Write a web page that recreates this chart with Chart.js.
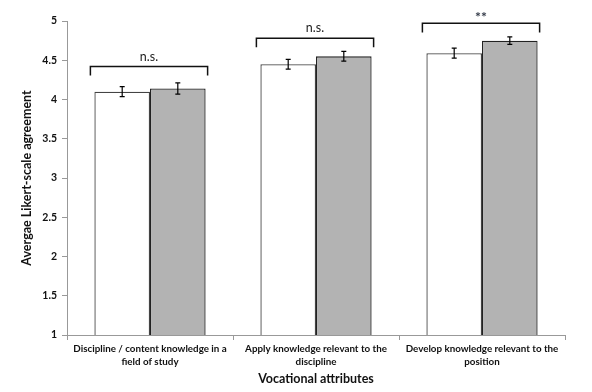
<!DOCTYPE html>
<html>
<head>
<meta charset="utf-8">
<script src="https://cdn.jsdelivr.net/npm/chart.js@4"></script>
<style>
  html, body { margin: 0; padding: 0; background: #fff; }
  #wrap { width: 592px; height: 392px; }
</style>
</head>
<body>
<div id="wrap"><canvas id="bar-chart"></canvas></div>
<script>
var categories = [
    ["Discipline / content knowledge in a", "field of study"],
    ["Apply knowledge relevant to the", "discipline"],
    ["Develop knowledge relevant to the", "position"]
];
var whiteValues = [4.10, 4.45, 4.59];
var whiteErrors = [0.064, 0.062, 0.064];
var grayValues = [4.14, 4.55, 4.75];
var grayErrors = [0.072, 0.062, 0.047];
var bracketLevels = [4.42, 4.78, 4.97];
var bracketLabels = ["n.s.", "n.s.", "**"];
var yTicks = [1, 1.5, 2, 2.5, 3, 3.5, 4, 4.5, 5];

var errorBars = {
    id: 'errorBars',
    afterDatasetsDraw: function(chart) {
        var ctx = chart.ctx;
        var y = chart.scales.y;
        var errs = [whiteErrors, grayErrors];
        ctx.save();
        ctx.strokeStyle = '#000';
        ctx.lineWidth = 1.2;
        chart.data.datasets.forEach(function(ds, d) {
            var meta = chart.getDatasetMeta(d);
            meta.data.forEach(function(bar, i) {
                var v = ds.data[i];
                var top = y.getPixelForValue(v + errs[d][i]);
                var bot = y.getPixelForValue(v - errs[d][i]);
                ctx.beginPath();
                ctx.moveTo(bar.x, top); ctx.lineTo(bar.x, bot);
                ctx.moveTo(bar.x - 2.5, top); ctx.lineTo(bar.x + 2.5, top);
                ctx.moveTo(bar.x - 2.5, bot); ctx.lineTo(bar.x + 2.5, bot);
                ctx.stroke();
            });
        });
        ctx.restore();
    }
};

var brackets = {
    id: 'brackets',
    afterDraw: function(chart) {
        var ctx = chart.ctx;
        var y = chart.scales.y;
        var m0 = chart.getDatasetMeta(0), m1 = chart.getDatasetMeta(1);
        ctx.save();
        ctx.strokeStyle = '#111';
        ctx.lineWidth = 1.5;
        for (var i = 0; i < bracketLevels.length; i++) {
            var b0 = m0.data[i], b1 = m1.data[i];
            var left = b0.x - b0.width / 2 - 4;
            var right = b1.x + b1.width / 2 + 2;
            var yy = y.getPixelForValue(bracketLevels[i]);
            var leg = y.getPixelForValue(bracketLevels[i] - 0.115);
            ctx.beginPath();
            ctx.moveTo(left, leg); ctx.lineTo(left, yy);
            ctx.lineTo(right, yy); ctx.lineTo(right, leg);
            ctx.stroke();
            var star = bracketLabels[i] === '**';
            ctx.fillStyle = star ? '#333a48' : '#222';
            ctx.font = star ? 'bold 14px Lato' : '12.5px Lato';
            ctx.textAlign = 'center';
            ctx.textBaseline = 'middle';
            ctx.fillText(bracketLabels[i], (left + right) / 2, yy - (star ? 6 : 10));
        }
        ctx.restore();
    }
};

new Chart(document.getElementById("bar-chart"), {
    type: 'bar',
    data: {
        labels: categories,
        datasets: [{
            data: whiteValues,
            backgroundColor: '#ffffff',
            borderColor: '#444',
            borderWidth: 1.3
        }, {
            data: grayValues,
            backgroundColor: '#b3b3b3',
            borderColor: '#222',
            borderWidth: 1.3
        }]
    },
    options: {
        responsive: true,
        maintainAspectRatio: false,
        animation: false,
        layout: { padding: { top: 21, right: 27, left: 0, bottom: 0 } },
        plugins: { legend: { display: false }, tooltip: { enabled: false } },
        datasets: { bar: { categoryPercentage: 0.67, barPercentage: 1.0 } },
        scales: {
            x: {
                grid: { drawOnChartArea: false, drawTicks: true, tickLength: 5, color: '#999', offset: true },
                border: { color: '#999', width: 1 },
                ticks: { color: '#111', font: { family: 'Lato', size: 9.8, weight: 'bold', lineHeight: 1.35 },
                         padding: 2, maxRotation: 0, autoSkip: false },
                title: { display: true, text: 'Vocational attributes', color: '#111',
                         font: { family: 'Lato', size: 12.5, weight: 'bold' }, padding: { top: 4, bottom: 6 } },
                afterFit: function(s) { s.height = 57; }
            },
            y: {
                min: 1, max: 5,
                afterBuildTicks: function(s) { s.ticks = yTicks.map(function(v) { return { value: v }; }); },
                grid: { drawOnChartArea: false, drawTicks: true, tickLength: 5, color: '#999' },
                border: { color: '#999', width: 1 },
                ticks: { color: '#111', font: { family: 'Lato', size: 10.5, weight: 'bold' }, padding: 5,
                         callback: function(v) { return String(v); } },
                title: { display: true, text: 'Avergae Likert-scale agreement', color: '#111',
                         font: { family: 'Lato', size: 12.5, weight: 'bold' }, padding: { top: 19, bottom: 0 } },
                afterFit: function(s) { s.width = 67; }
            }
        }
    },
    plugins: [errorBars, brackets]
});
</script>
</body>
</html>
